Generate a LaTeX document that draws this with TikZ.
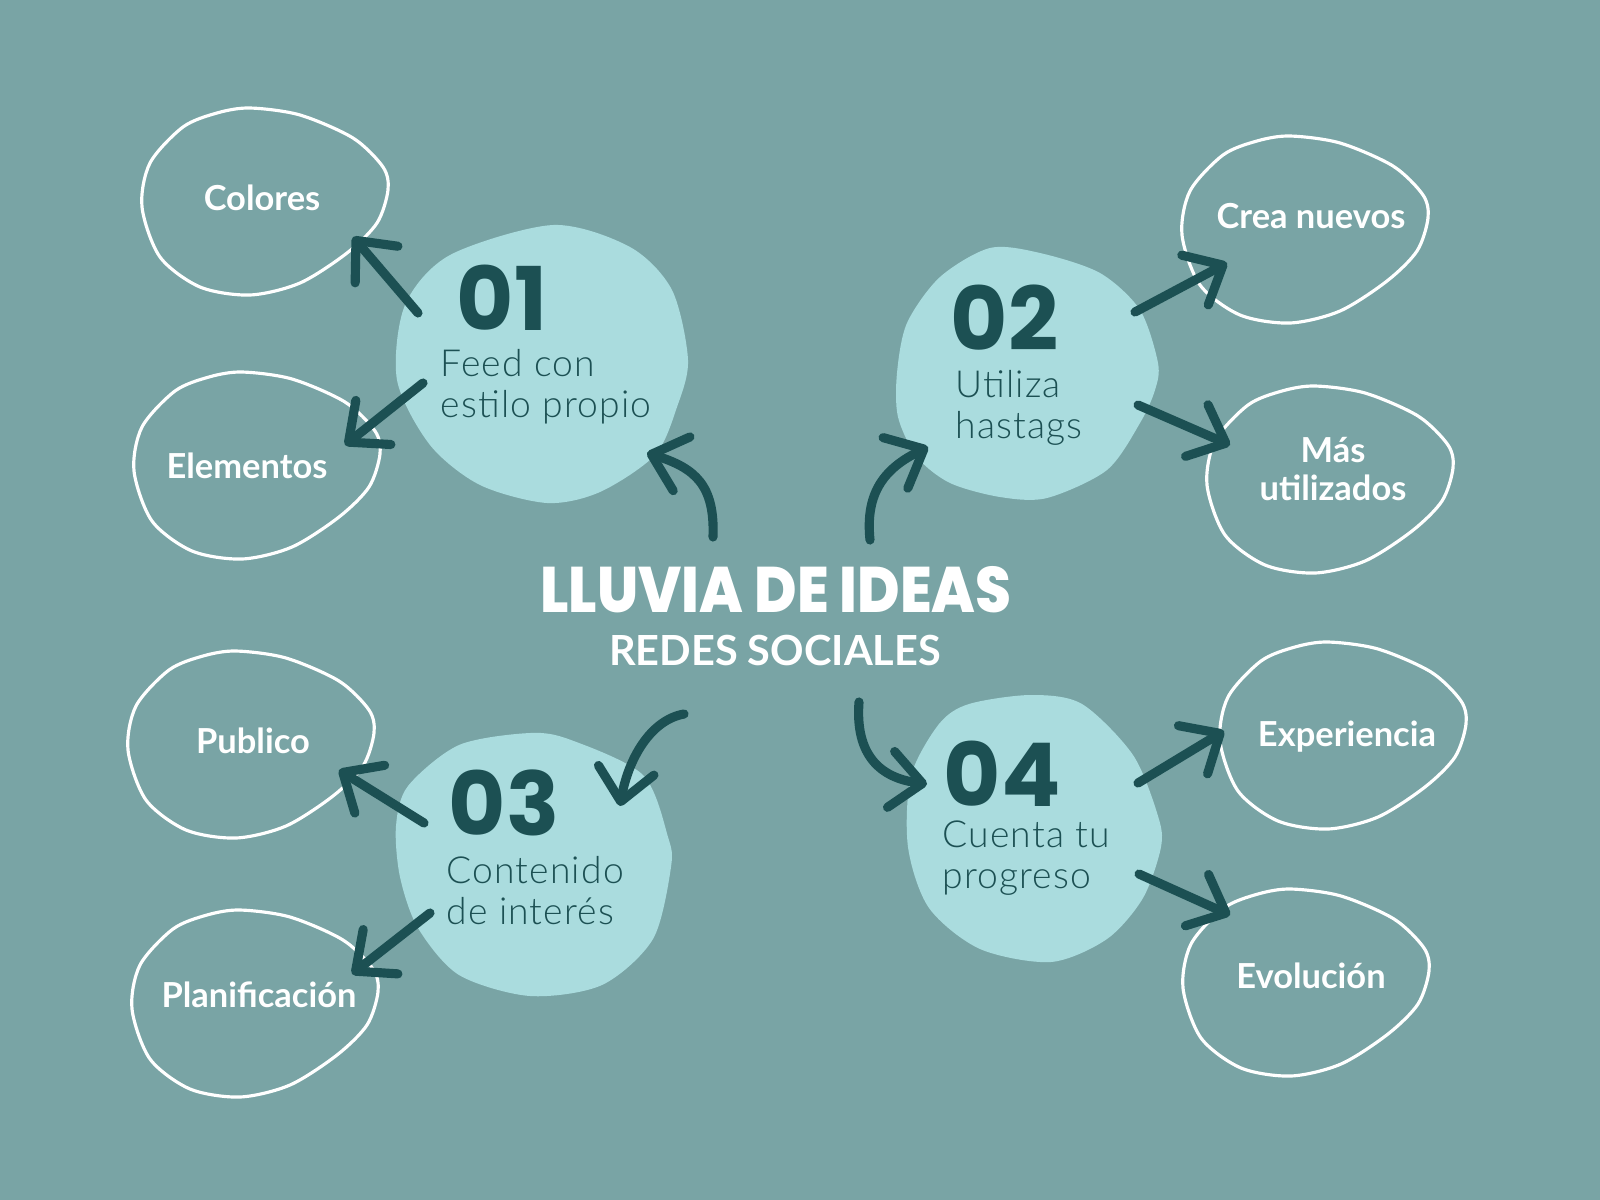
\documentclass[tikz,border=0pt]{standalone}
\usepackage{fontspec}
\usepackage{graphicx}
\setmainfont{Lato}
\newfontfamily\numfont{Poppins}
\IfFontExistsTF{Lato Light}{\newfontfamily\lightfont{Lato Light}[LetterSpace=3]}{\newfontfamily\lightfont{Lato}[LetterSpace=3]}
\IfFontExistsTF{Poppins ExtraBold}{\newfontfamily\titlefont{Poppins ExtraBold}}{\newfontfamily\titlefont{Poppins}[UprightFont=*-Bold]}
\usetikzlibrary{arrows.meta}

\definecolor{bgteal}{HTML}{79A4A5}
\definecolor{blobcyan}{HTML}{AADCDE}
\definecolor{darkteal}{HTML}{1C5053}

\tikzset{
  ring/.style={draw=white, line width=0.9pt},
  blobfill/.style={fill=blobcyan},
  idea/.style={font=\fontsize{9.8}{10.6}\selectfont\bfseries, text=white, align=center, inner sep=0pt, anchor=base},
  numtext/.style={font=\numfont\fontsize{25}{25}\selectfont\bfseries, text=darkteal, inner sep=0pt, anchor=base west},
  desc/.style={font=\lightfont\fontsize{10.6}{11.4}\selectfont, text=darkteal, align=left, inner sep=0pt, anchor=base west},
  brush/.style={draw=darkteal, line width=2.6pt, line cap=round, -{Straight Barb[length=9pt,width=16pt,round]}},
  pics/ideablob/.style={code={
    \draw[ring] plot[smooth cycle] coordinates {(-15,-94) (35,-87) (88,-64) (118,-35) (123,-12) (112,21) (82,51) (35,81) (-15,93) (-65,85) (-105,55) (-123,5) (-115,-39) (-82,-75) (-48,-89)};
  }}
}

\begin{document}
\begin{tikzpicture}[x=0.01cm, y=-0.01cm]
    % background, pixel coordinates from the top left
    \useasboundingbox (0,0) rectangle (1600,1200);
    \fill[bgteal] (0,0) rectangle (1600,1200);

    % filled blobs
    \fill[blobfill] plot[smooth cycle] coordinates {(553,225) (630,247) (672,290) (688,360) (677,407) (655,455) (600,492) (547,503) (480,485) (430,445) (397,380) (405,305) (450,255)};
    \fill[blobfill] plot[smooth cycle] coordinates {(990,248) (1040,253) (1100,273) (1140,310) (1158,363) (1155,390) (1140,423) (1107,470) (1047,498) (1000,497) (950,483) (917,457) (898,417) (897,373) (907,323) (940,277)};
    \fill[blobfill] plot[smooth cycle] coordinates {(530,733) (571,740) (643,775) (668,837) (671,867) (653,939) (602,985) (530,996) (459,975) (418,928) (400,877) (396,826) (408,786) (459,745)};
    \fill[blobfill] plot[smooth cycle] coordinates {(969,704) (1031,695) (1082,704) (1133,755) (1158,816) (1161,847) (1143,898) (1107,939) (1051,962) (980,949) (929,908) (908,847) (911,776) (939,724)};

    % outline blobs
    \pic at (265,202) {ideablob};
    \pic at (257,466) {ideablob};
    \pic at (251,745) {ideablob};
    \pic at (255,1004) {ideablob};
    \pic at (1305,230) {ideablob};
    \pic at (1330,480) {ideablob};
    \pic at (1343,736) {ideablob};
    \pic at (1306,983) {ideablob};

    % centre title
    \node[font=\titlefont\fontsize{18.3}{18.3}\selectfont, text=white, inner sep=0pt, anchor=base] (title) at (776,612) {\scalebox{0.9}[1]{LLUVIA DE IDEAS}};
    \node[font=\fontsize{11.8}{11.8}\selectfont\bfseries, text=white, inner sep=0pt, anchor=base] (subtitle) at (775,665) {REDES SOCIALES};

    % numbered ideas (base = last line)
    \node[numtext] (n01) at (456,330) {01};
    \node[desc] (d01) at (440,417) {Feed con\\estilo propio};
    \node[numtext] (n02) at (950,350) {02};
    \node[desc] (d02) at (955,438) {Utiliza\\hastags};
    \node[numtext] (n03) at (448,835) {03};
    \node[desc] (d03) at (446,924) {Contenido\\de interés};
    \node[numtext] (n04) at (943,806) {04};
    \node[desc] (d04) at (942,888) {Cuenta tu\\progreso};

    % sub ideas
    \node[idea] (colores) at (262,210) {Colores};
    \node[idea] (elementos) at (247,478) {Elementos};
    \node[idea] (publico) at (253,753) {Publico};
    \node[idea] (planif) at (259,1007) {Planificación};
    \node[idea] (crea) at (1311,228) {Crea nuevos};
    \node[idea] (mas) at (1333,500) {Más\\utilizados};
    \node[idea] (exper) at (1347,746) {Experiencia};
    \node[idea] (evol) at (1311,988) {Evolución};

    % arrow ends
    \coordinate (c01) at (713,537);  \coordinate (h01) at (647,453);
    \coordinate (c02) at (870,540);  \coordinate (h02) at (928,447);
    \coordinate (c03) at (684,714);  \coordinate (h03) at (620,806);
    \coordinate (c04) at (859,702);  \coordinate (h04) at (927,784);
    \coordinate (t1a) at (418,313);  \coordinate (e1a) at (353,237);
    \coordinate (t1b) at (423,383);  \coordinate (e1b) at (345,445);
    \coordinate (t2a) at (1135,312); \coordinate (e2a) at (1227,263);
    \coordinate (t2b) at (1138,405); \coordinate (e2b) at (1230,445);
    \coordinate (t3a) at (424,823);  \coordinate (e3a) at (339,770);
    \coordinate (t3b) at (430,913);  \coordinate (e3b) at (352,974);
    \coordinate (t4a) at (1138,783); \coordinate (e4a) at (1224,731);
    \coordinate (t4b) at (1139,874); \coordinate (e4b) at (1230,915);

    % curved arrows from the title
    \draw[brush] (c01) .. controls (715,485) and (695,468) .. (h01);
    \draw[brush] (c02) .. controls (865,492) and (885,468) .. (h02);
    \draw[brush] (c03) .. controls (650,720) and (628,760) .. (h03);
    \draw[brush] (c04) .. controls (855,755) and (880,778) .. (h04);

    % straight arrows to the sub ideas
    \draw[brush] (t1a) -- (e1a);
    \draw[brush] (t1b) -- (e1b);
    \draw[brush] (t2a) -- (e2a);
    \draw[brush] (t2b) -- (e2b);
    \draw[brush] (t3a) -- (e3a);
    \draw[brush] (t3b) -- (e3b);
    \draw[brush] (t4a) -- (e4a);
    \draw[brush] (t4b) -- (e4b);
\end{tikzpicture}
\end{document}
